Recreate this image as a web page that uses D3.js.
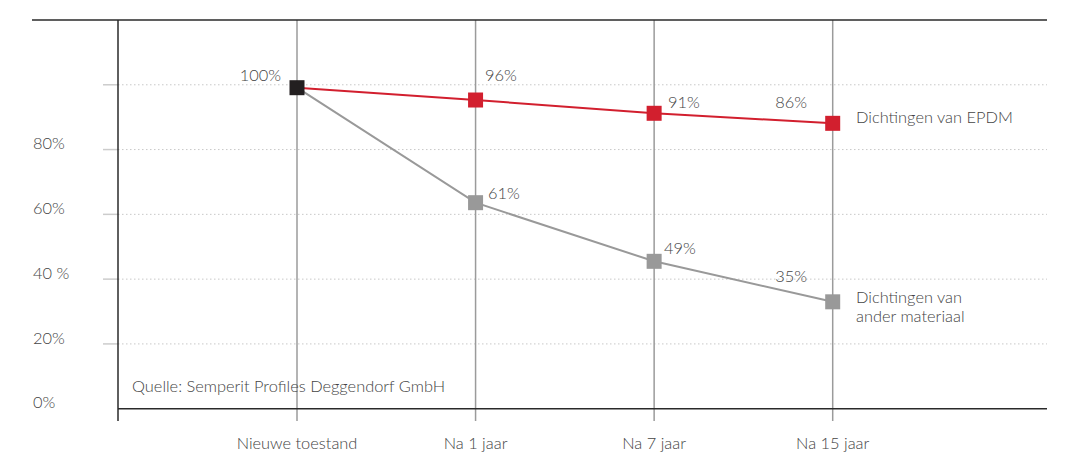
<!DOCTYPE html>
<html><head><meta charset="utf-8">
<script src="https://cdn.jsdelivr.net/npm/d3@7"></script>
<style>
html,body{margin:0;padding:0;background:#fff;}
text{font-family:Lato,"Open Sans",sans-serif;font-weight:300;fill:#444;}
</style></head>
<body><svg id="c" width="1080" height="474"></svg>
<script>
const categories = ["Nieuwe toestand","Na 1 jaar","Na 7 jaar","Na 15 jaar"];
const epdmValues = [99.1, 95.3, 91.2, 88.1];
const epdmLabels = ["100%","96%","91%","86%"];
const otherValues = [99.1, 63.6, 45.5, 33.0];
const otherLabels = ["100%","61%","49%","35%"];
const yTicks = [0,20,40,60,80,100];
const yTickLabels = ["0%","20%","40 %","60%","80%",""];
const seriesNames = ["Dichtingen van EPDM", ["Dichtingen van","ander materiaal"]];
const sourceText = "Quelle: Semperit Profiles Deggendorf GmbH";

const FS = 16.4;
const svg = d3.select("#c");
const x = d3.scalePoint().domain(categories).range([297, 832.7]);
const y = d3.scaleLinear().domain([0,120]).range([408.7, 20]);
const left = 118, right = 1047;

// gridlines
svg.append("g").selectAll("line").data(yTicks.filter(d=>d>0)).join("line")
  .attr("x1",left).attr("x2",right).attr("y1",d=>y(d)).attr("y2",d=>y(d))
  .attr("stroke","#c8c8c8").attr("stroke-width",1).attr("stroke-dasharray","1.5,2.5");
// tick stubs
svg.append("g").selectAll("line").data(yTicks.filter(d=>d>0)).join("line")
  .attr("x1",103).attr("x2",left).attr("y1",d=>y(d)).attr("y2",d=>y(d))
  .attr("stroke","#ccc").attr("stroke-width",1.5);
// y labels
svg.append("g").selectAll("text").data(yTicks).join("text")
  .attr("x",33).attr("y",(d)=>y(d)-6).attr("dy","0.35em")
  .attr("font-size",FS).text((d,i)=>yTickLabels[i]);

// category vertical lines
svg.append("g").selectAll("line").data(categories).join("line")
  .attr("x1",d=>x(d)).attr("x2",d=>x(d)).attr("y1",y(120)).attr("y2",421)
  .attr("stroke","#9b9b9b").attr("stroke-width",1.5);
// category labels
svg.append("g").selectAll("text").data(categories).join("text")
  .attr("x",d=>x(d)).attr("y",443.5).attr("dy","0.35em").attr("text-anchor","middle")
  .attr("font-size",FS).text(d=>d);

// frame lines
svg.append("line").attr("x1",32).attr("x2",right).attr("y1",y(120)).attr("y2",y(120))
  .attr("stroke","#2a2a2a").attr("stroke-width",1.5);
svg.append("line").attr("x1",left).attr("x2",left).attr("y1",y(120)).attr("y2",421)
  .attr("stroke","#2a2a2a").attr("stroke-width",1.5);
svg.append("line").attr("x1",left).attr("x2",right).attr("y1",y(0)).attr("y2",y(0))
  .attr("stroke","#2a2a2a").attr("stroke-width",1.5);

// source
svg.append("text").attr("x",132).attr("y",386).attr("dy","0.35em").attr("font-size",FS).text(sourceText);

const line = d3.line().x((d,i)=>x(categories[i])).y(d=>y(d));
svg.append("path").datum(otherValues).attr("d",line).attr("fill","none")
  .attr("stroke","#999").attr("stroke-width",2);
svg.append("path").datum(epdmValues).attr("d",line).attr("fill","none")
  .attr("stroke","#d21f2e").attr("stroke-width",2);

const s = 15;
function markers(vals, color, skipFirst){
  svg.append("g").selectAll("rect").data(vals.map((v,i)=>({v,i})).filter(d=>!(skipFirst&&d.i===0))).join("rect")
    .attr("x",d=>x(categories[d.i])-s/2).attr("y",d=>y(d.v)-s/2)
    .attr("width",s).attr("height",s).attr("fill",color);
}
markers(otherValues,"#999",true);
markers(epdmValues,"#d21f2e",true);
// first shared point
svg.append("rect").attr("x",x(categories[0])-s/2).attr("y",y(epdmValues[0])-s/2)
  .attr("width",s).attr("height",s).attr("fill","#231f20");

// value labels
const lbl = [
  {t:epdmLabels[0], cx:281, cy:75, a:"end"},
  {t:epdmLabels[1], cx:485, cy:75, a:"start"},
  {t:epdmLabels[2], cx:668, cy:102, a:"start"},
  {t:epdmLabels[3], cx:807, cy:102, a:"end"},
  {t:otherLabels[1], cx:488, cy:193, a:"start"},
  {t:otherLabels[2], cx:664, cy:248, a:"start"},
  {t:otherLabels[3], cx:807, cy:276, a:"end"}
];
svg.append("g").selectAll("text").data(lbl).join("text")
  .attr("x",d=>d.cx).attr("y",d=>d.cy).attr("dy","0.35em").attr("text-anchor",d=>d.a)
  .attr("font-size",FS).text(d=>d.t);

// series labels
svg.append("text").attr("x",856).attr("y",117).attr("dy","0.35em").attr("font-size",FS).text(seriesNames[0]);
svg.append("text").attr("x",856).attr("y",297).attr("dy","0.35em").attr("font-size",FS).text(seriesNames[1][0]);
svg.append("text").attr("x",856).attr("y",316).attr("dy","0.35em").attr("font-size",FS).text(seriesNames[1][1]);
</script></body></html>
